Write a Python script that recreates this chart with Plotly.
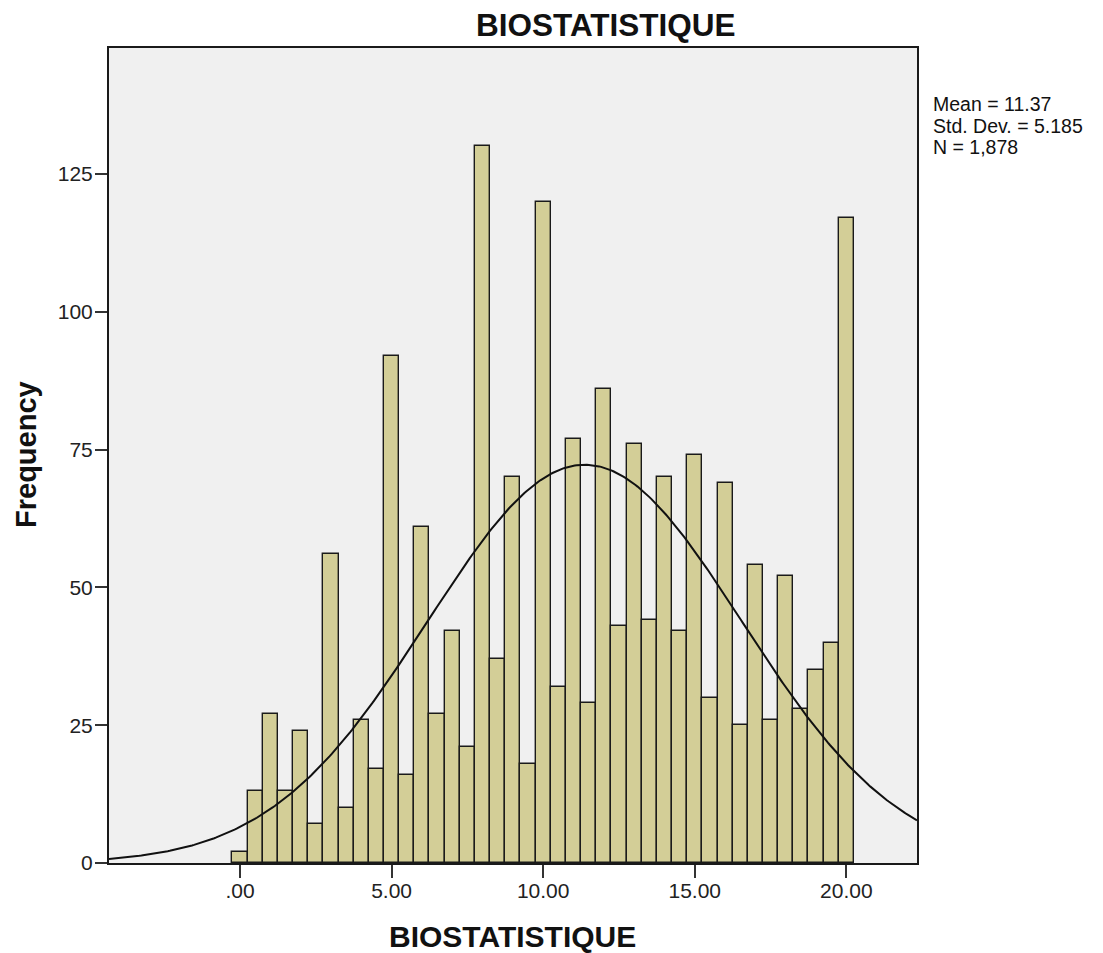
import numpy as np
import plotly.graph_objects as go

# ---- data ----
bin_centers = [0.0, 0.5, 1.0, 1.5, 2.0, 2.5, 3.0, 3.5, 4.0, 4.5,
               5.0, 5.5, 6.0, 6.5, 7.0, 7.5, 8.0, 8.5, 9.0, 9.5,
               10.0, 10.5, 11.0, 11.5, 12.0, 12.5, 13.0, 13.5, 14.0, 14.5,
               15.0, 15.5, 16.0, 16.5, 17.0, 17.5, 18.0, 18.5, 19.0, 19.5, 20.0]
counts = [2, 13, 27, 13, 24, 7, 56, 10, 26, 17,
          92, 16, 61, 27, 42, 21, 130, 37, 70, 18,
          120, 32, 77, 29, 86, 43, 76, 44, 70, 42,
          74, 30, 69, 25, 54, 26, 52, 28, 35, 40, 117]
bin_width = 0.5
mean_val = 11.37
std_val = 5.185
n_val = 1878
x_tick_vals = [0, 5, 10, 15, 20]
x_tick_text = [".00", "5.00", "10.00", "15.00", "20.00"]
y_tick_vals = [0, 25, 50, 75, 100, 125]
y_tick_text = ["0", "25", "50", "75", "100", "125"]
stats_lines = ["Mean = 11.37", "Std. Dev. = 5.185", "N = 1,878"]

# ---- layout geometry (pixels, in the 1103x953 window) ----
OFF = 8  # default page body margin
W, H = 1103 - OFF, 953 - OFF
L, R, T, B = 109 - OFF, 917 - OFF, 48 - OFF, 863 - OFF
x_range = [-4.32, 22.33]
y_range = [0, 147.85]

# fitted normal curve
xc = np.linspace(x_range[0], x_range[1], 400)
yc = n_val * bin_width / (std_val * np.sqrt(2 * np.pi)) * np.exp(-0.5 * ((xc - mean_val) / std_val) ** 2)

fig = go.Figure()
fig.add_trace(go.Bar(
    x=bin_centers, y=counts, width=bin_width,
    marker=dict(color="#D3CE97", line=dict(color="#1a1a1a", width=1.4)),
    showlegend=False, hoverinfo="x+y",
))
fig.add_trace(go.Scatter(
    x=xc, y=yc, mode="lines", line=dict(color="#111111", width=2),
    showlegend=False, hoverinfo="skip",
))

FONT = "Liberation Sans, Arial, sans-serif"

def px_x(p):
    return (p - OFF - L) / (R - L)

def px_y(p):
    return (B - (p - OFF)) / (B - T)

fig.update_layout(
    width=W, height=H,
    margin=dict(l=L, r=W - R, t=T, b=H - B, pad=0),
    paper_bgcolor="white", plot_bgcolor="#F0F0F0",
    bargap=0,
    font=dict(family=FONT, color="#1a1a1a", size=21),
    xaxis=dict(
        range=x_range, tickvals=x_tick_vals, ticktext=x_tick_text,
        showgrid=False, zeroline=False,
        showline=True, linecolor="#1a1a1a", linewidth=2, mirror=True,
        ticks="outside", ticklen=13, tickwidth=2, tickcolor="#333333",
        tickfont=dict(size=21, family=FONT, color="#222222"),
        ticklabelstandoff=-5,
    ),
    yaxis=dict(
        range=y_range, tickvals=y_tick_vals, ticktext=y_tick_text,
        showgrid=False, zeroline=False,
        showline=True, linecolor="#1a1a1a", linewidth=2, mirror=True,
        ticks="outside", ticklen=12, tickwidth=2, tickcolor="#333333",
        tickfont=dict(size=21, family=FONT, color="#222222"),
        ticklabelstandoff=-2,
    ),
)

annotations = [
    dict(text="<b>BIOSTATISTIQUE</b>", x=px_x(605.5), y=px_y(25), xref="paper", yref="paper",
         xanchor="center", yanchor="middle", showarrow=False,
         font=dict(size=31.5, family=FONT, color="#111111")),
    dict(text="<b>BIOSTATISTIQUE</b>", x=px_x(512.5), y=px_y(937), xref="paper", yref="paper",
         xanchor="center", yanchor="middle", showarrow=False,
         font=dict(size=30, family=FONT, color="#111111")),
    dict(text="<b>Frequency</b>", x=px_x(26), y=px_y(455), xref="paper", yref="paper",
         xanchor="center", yanchor="middle", showarrow=False, textangle=-90,
         font=dict(size=29, family=FONT, color="#111111")),
]
for i, line in enumerate(stats_lines):
    annotations.append(dict(
        text=line, x=px_x(931), y=px_y(104 + 21.5 * i), xref="paper", yref="paper",
        xanchor="left", yanchor="middle", showarrow=False,
        font=dict(size=19.5, family=FONT, color="#111111")))
fig.update_layout(annotations=annotations)

fig.write_html("out.html")
